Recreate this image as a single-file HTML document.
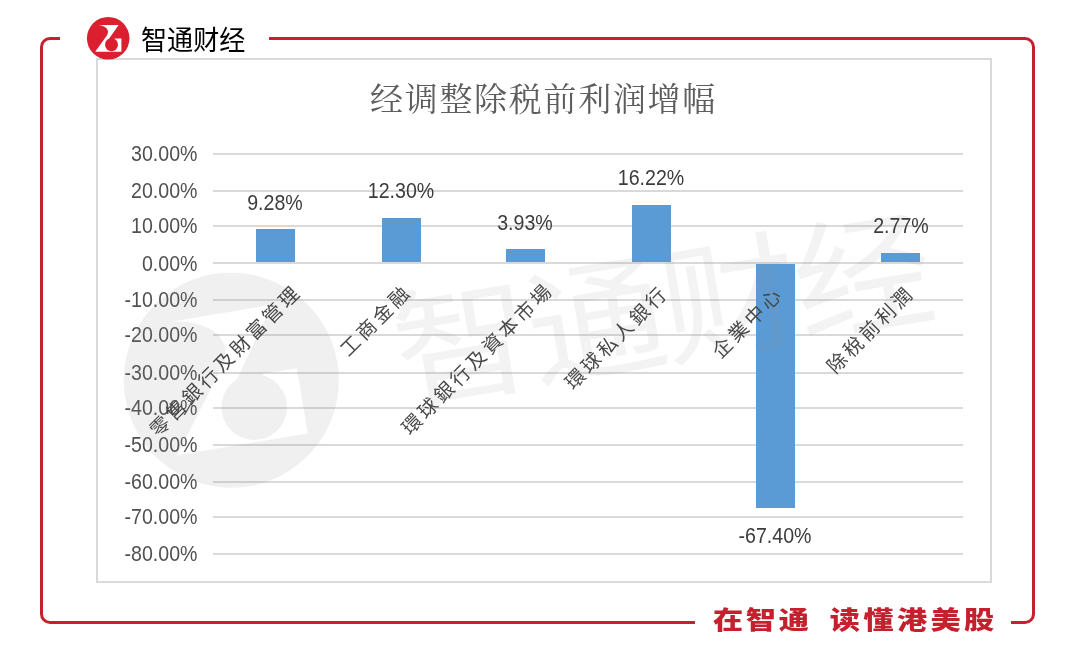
<!DOCTYPE html>
<html lang="zh">
<head>
<meta charset="utf-8">
<title>经调整除税前利润增幅</title>
<style>
html,body{margin:0;padding:0;background:#fff;}
body{width:1080px;height:647px;position:relative;overflow:hidden;font-family:"Liberation Sans","Noto Sans CJK SC",sans-serif;}
.abs{position:absolute;}
#frame{left:40px;top:37px;width:989px;height:581px;border:3px solid #c5202e;border-radius:10px;box-sizing:content-box;}
.mask{background:#fff;}
#chart{left:96px;top:58px;width:892px;height:521px;border:2px solid #d9d9d9;background:#fff;}
.grid{left:213px;width:750px;height:2px;background:#d9d9d9;}
.yl{left:100px;width:97.5px;text-align:right;font-size:21.3px;line-height:20px;color:#505050;white-space:nowrap;transform-origin:100% 50%;transform:scaleX(0.92);}
.bar{background:#5b9bd5;width:39px;}
.dl{width:120px;text-align:center;font-size:21.3px;line-height:20px;color:#3c3c3c;white-space:nowrap;transform-origin:50% 50%;transform:scaleX(0.92);}
.cl{font-family:"Liberation Sans","Noto Sans CJK TC",sans-serif;font-size:19.4px;letter-spacing:3.4px;line-height:20px;color:#484848;white-space:nowrap;transform-origin:100% 50%;transform:rotate(-45deg);text-align:right;width:300px;}
#title{left:96px;width:895px;top:78px;text-align:center;font-family:"Liberation Serif","Noto Serif CJK SC",serif;font-size:33px;line-height:44px;color:#5e5e5e;letter-spacing:1.7px;}
#brand{left:141px;top:23.7px;font-size:26.1px;line-height:34px;color:#000;font-family:"Liberation Sans","Noto Sans CJK SC",sans-serif;font-weight:400;white-space:nowrap;transform-origin:0 50%;transform:scale(1,1.03);}
#slogan{left:713px;top:602px;font-size:24.5px;line-height:38px;color:#c5202e;font-family:"Liberation Sans","Noto Sans CJK SC",sans-serif;font-weight:900;white-space:nowrap;letter-spacing:2.8px;word-spacing:5.2px;transform-origin:0 50%;transform:scaleX(1.23);}
</style>
</head>
<body>
<div class="abs" id="frame"></div>
<div class="abs mask" style="left:60px;top:30px;width:209px;height:16px;"></div>
<div class="abs mask" style="left:695px;top:612px;width:316px;height:20px;"></div>

<div class="abs" id="chart"></div>

<!-- gridlines -->
<div class="abs grid" style="top:153px"></div>
<div class="abs grid" style="top:190px"></div>
<div class="abs grid" style="top:225px"></div>
<div class="abs grid" style="top:262px"></div>
<div class="abs grid" style="top:299px"></div>
<div class="abs grid" style="top:334px"></div>
<div class="abs grid" style="top:372px"></div>
<div class="abs grid" style="top:407px"></div>
<div class="abs grid" style="top:444px"></div>
<div class="abs grid" style="top:481px"></div>
<div class="abs grid" style="top:516px"></div>
<div class="abs grid" style="top:553px"></div>

<!-- y labels -->
<div class="abs yl" style="top:143.8px">30.00%</div>
<div class="abs yl" style="top:181.3px">20.00%</div>
<div class="abs yl" style="top:216.1px">10.00%</div>
<div class="abs yl" style="top:253.6px">0.00%</div>
<div class="abs yl" style="top:290.3px">-10.00%</div>
<div class="abs yl" style="top:325.4px">-20.00%</div>
<div class="abs yl" style="top:362.8px">-30.00%</div>
<div class="abs yl" style="top:397.9px">-40.00%</div>
<div class="abs yl" style="top:434.9px">-50.00%</div>
<div class="abs yl" style="top:472.1px">-60.00%</div>
<div class="abs yl" style="top:507.4px">-70.00%</div>
<div class="abs yl" style="top:544.1px">-80.00%</div>

<!-- bars -->
<div class="abs bar" style="left:256px;top:229px;height:33px"></div>
<div class="abs bar" style="left:382px;top:218px;height:44px"></div>
<div class="abs bar" style="left:506px;top:249px;height:13px"></div>
<div class="abs bar" style="left:632px;top:205px;height:57px"></div>
<div class="abs bar" style="left:756px;top:264px;height:244px"></div>
<div class="abs bar" style="left:881px;top:253px;height:9px"></div>

<!-- watermark -->
<svg class="abs" id="wm" style="left:96px;top:58px" width="895" height="524" viewBox="96 58 895 524">
  <g fill="#8c8c8c">
    <g opacity="0.125" transform="translate(231.3 380.2) rotate(-9.5) scale(5.05) translate(-22.2 -22.3)">
      <path fill-rule="evenodd" d="M22.2 1 A21.3 21.3 0 1 0 22.2 43.6 A21.3 21.3 0 1 0 22.2 1 Z M12.6 8.9 L32.6 8.9 L21.5 25 L25.8 28.4 L28.6 22.1 L35.4 22.1 L35.4 35.2 L9.2 35.2 L21.2 18.9 C23.5 14.5 21 10.2 12.6 8.9 Z"/>
      <circle cx="25.8" cy="28.3" r="6.5"/>
    </g>
    <text id="wmt" x="0" y="0" fill-opacity="0.105" font-family="'Liberation Sans','Noto Sans CJK SC',sans-serif" font-size="122" letter-spacing="-3.5" font-weight="400" transform="translate(402.5 402) rotate(-9.5) scale(1.14 1.065)">智通财经</text>
  </g>
</svg>

<!-- data labels -->
<div class="abs dl" style="left:215px;top:192.5px">9.28%</div>
<div class="abs dl" style="left:340.5px;top:181px">12.30%</div>
<div class="abs dl" style="left:465px;top:212.7px">3.93%</div>
<div class="abs dl" style="left:591px;top:168.3px">16.22%</div>
<div class="abs dl" style="left:715px;top:526.3px">-67.40%</div>
<div class="abs dl" style="left:840.5px;top:216.3px">2.77%</div>

<!-- category labels -->
<div class="abs cl" style="left:-2.0px;top:277.8px">零售銀行及財富管理</div>
<div class="abs cl" style="left:108.2px;top:278.4px">工商金融</div>
<div class="abs cl" style="left:249.7px;top:275.8px">環球銀行及資本市場</div>
<div class="abs cl" style="left:365.4px;top:278.8px">環球私人銀行</div>
<div class="abs cl" style="left:479.9px;top:280.0px">企業中心</div>
<div class="abs cl" style="left:610.5px;top:278.6px">除稅前利潤</div>

<div class="abs" id="title">经调整除税前利润增幅</div>

<!-- brand -->
<svg class="abs" style="left:86px;top:16px" width="44" height="44" viewBox="0 0 44 44">
  <circle cx="22.2" cy="22.3" r="21.3" fill="#db1f2e"/>
  <path d="M12.6 8.9 L32.6 8.9 L21.5 25 L25.9 28.6 L28.6 22.6 L35.4 22.6 L35.4 35.8 L9.2 35.8 L21.2 18.9 C23.5 14.5 21 10.2 12.6 8.9 Z" fill="#fff"/>
  <circle cx="25.5" cy="28.7" r="6.5" fill="#db1f2e"/>
</svg>
<div class="abs" id="brand">智通财经</div>
<div class="abs" id="slogan"><span style="letter-spacing:2.2px">在智通</span> 读懂港美股</div>
</body>
</html>
